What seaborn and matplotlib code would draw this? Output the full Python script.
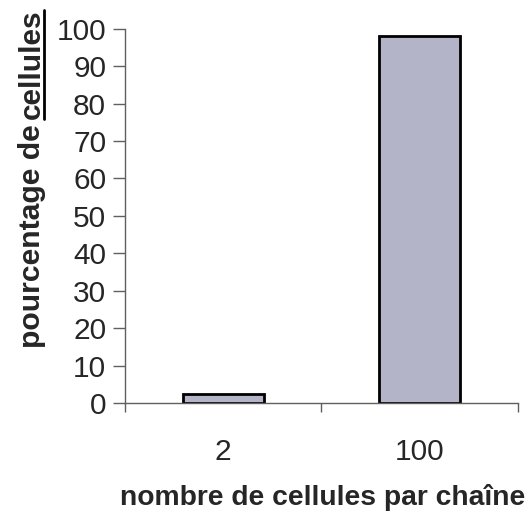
import matplotlib
matplotlib.use("Agg")
import matplotlib.pyplot as plt
import seaborn as sns
from matplotlib.lines import Line2D

# données
categories = ["2", "100"]
pourcentages = [2.4, 98.2]
yticks = list(range(0, 101, 10))

sns.set_theme(style="white")
plt.rcParams['font.family'] = ['Liberation Sans', 'DejaVu Sans']

fig = plt.figure(figsize=(5.30, 5.14), dpi=100)
ax = fig.add_axes([0.236, 0.216, 0.741, 0.728])

sns.barplot(x=categories, y=pourcentages, ax=ax, color="#b4b4c8",
            edgecolor="black", linewidth=2, width=0.41, saturation=1)

ax.set_xlim(-0.5, 1.5)
ax.set_ylim(0, 100)
ax.set_yticks(yticks)
ax.set_xlabel("")
ax.set_ylabel("")

for s in ["top", "right"]:
    ax.spines[s].set_visible(False)
for s in ["left", "bottom"]:
    ax.spines[s].set_color("#606060")
    ax.spines[s].set_linewidth(1)

ax.tick_params(axis="y", direction="out", length=8.6, width=1, color="#606060",
               pad=5, labelsize=21.5, left=True)
ax.tick_params(axis="x", which="major", length=0, pad=25, labelsize=21.5)
ax.set_xticks([-0.5, 0.5, 1.5], minor=True)
ax.tick_params(axis="x", which="minor", direction="out", length=6.5, width=1,
               color="#606060", bottom=True)

fig.text(0.609, 0.017, "nombre de cellules par chaîne", ha="center", va="baseline",
         fontsize=20.3, fontweight="bold")

# titre de l'axe y en deux morceaux, "cellules" souligné
x_base = 40 / 530
t1 = fig.text(x_base, 1 - 348 / 514, "pourcentage de", rotation=90,
              rotation_mode="anchor", ha="left", va="baseline",
              fontsize=21.7, fontweight="bold")
fig.canvas.draw()
r = fig.canvas.get_renderer()
bb = t1.get_window_extent(r)
y_end = (bb.y1 + 5) / fig.bbox.height
t2 = fig.text(x_base, y_end, "cellules", rotation=90, rotation_mode="anchor",
              ha="left", va="baseline", fontsize=21.5, fontweight="bold")
fig.canvas.draw()
bb2 = t2.get_window_extent(r)
x_ul = x_base + 4 / 530
fig.add_artist(Line2D([x_ul, x_ul], [bb2.y0 / fig.bbox.height, bb2.y1 / fig.bbox.height],
                      transform=fig.transFigure, color="black", linewidth=2))

fig.savefig("out.png", dpi=100)
